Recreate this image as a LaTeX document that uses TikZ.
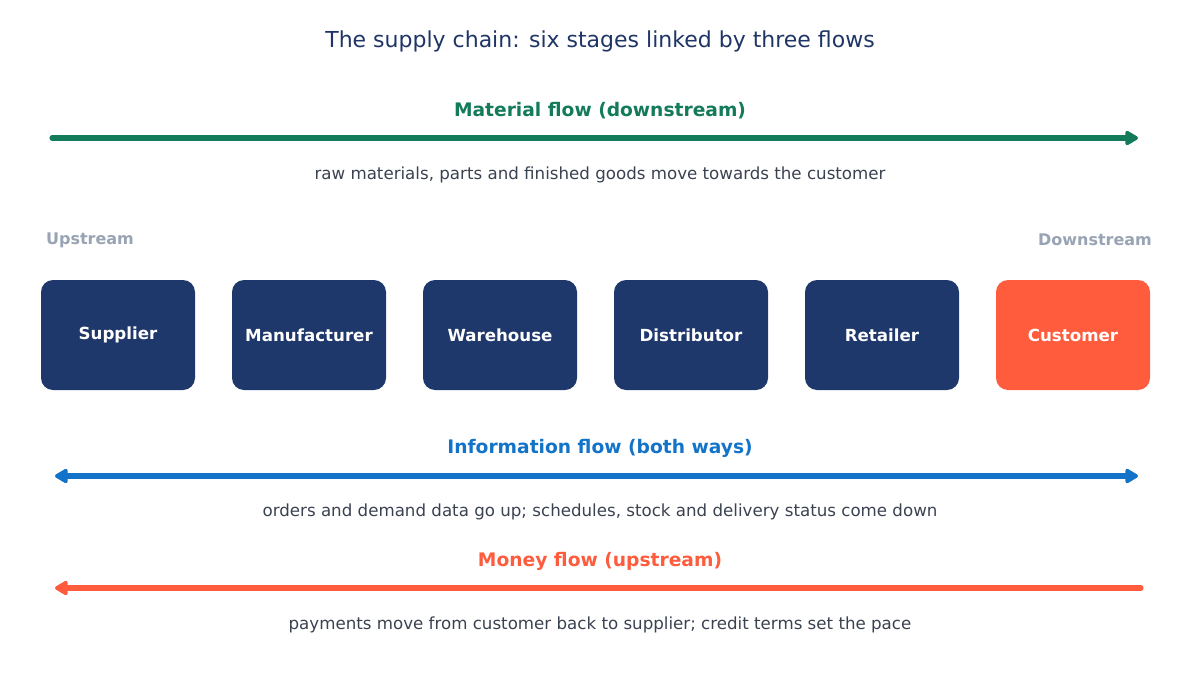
\documentclass[tikz,border=0pt]{standalone}
\usepackage{fontspec}
\setmainfont{DejaVu Sans}
\usetikzlibrary{arrows.meta}
\definecolor{navy}{HTML}{1F386B}
\definecolor{titlec}{HTML}{1F3566}
\definecolor{greenf}{HTML}{137A5A}
\definecolor{bluef}{HTML}{1273C8}
\definecolor{orangef}{HTML}{FF5C3D}
\definecolor{capc}{HTML}{3A4150}
\definecolor{grayc}{HTML}{98A3B3}
\begin{document}
\begin{tikzpicture}[x=0.75pt,y=-0.75pt,
  >={Triangle[length=11pt,width=12pt,round]},
  stage/.style={rounded corners=9pt,minimum width=115.5pt,minimum height=82.5pt,inner sep=0pt,text=white,font=\bfseries\fontsize{12.5}{14}\selectfont},
  flowlbl/.style={font=\bfseries\fontsize{14}{16}\selectfont},
  captxt/.style={text=capc,font=\fontsize{12.5}{14}\selectfont},
  flow/.style={line width=3.8pt,line cap=round}]
\useasboundingbox (0,0) rectangle (1200,675);
\node[text=titlec,font=\fontsize{16.5}{19}\selectfont] (title) at (600,41) {The supply chain: six stages linked by three flows};

\node[flowlbl,text=greenf] (ml) at (600,111) {Material flow (downstream)};
\coordinate (m1) at (52,138); \coordinate (m2) at (1138,138);
\draw[flow,greenf,->] (m1) -- (m2);
\node[captxt] (mc) at (600,175) {raw materials, parts and finished goods move towards the customer};

\node[text=grayc,font=\bfseries\fontsize{12}{14}\selectfont] (up) at (90,240) {Upstream};
\node[text=grayc,font=\bfseries\fontsize{12}{14}\selectfont] (down) at (1095,240) {Downstream};

\foreach \n/\t [count=\i from 0] in {s/Supplier,m/Manufacturer,w/Warehouse,d/Distributor,r/Retailer}
  \node[stage,fill=navy] (\n) at (118+191*\i,335) {\t};
\node[stage,fill=orangef] (c) at (1073,335) {Customer};

\node[flowlbl,text=bluef] (il) at (600,448) {Information flow (both ways)};
\coordinate (i1) at (55,476); \coordinate (i2) at (1138,476);
\draw[flow,bluef,<->] (i1) -- (i2);
\node[captxt] (ic) at (600,512) {orders and demand data go up; schedules, stock and delivery status come down};

\node[flowlbl,text=orangef] (ol) at (600,561) {Money flow (upstream)};
\coordinate (o1) at (55,588); \coordinate (o2) at (1141,588);
\draw[flow,orangef,->] (o2) -- (o1);
\node[captxt] (oc) at (600,625) {payments move from customer back to supplier; credit terms set the pace};
\end{tikzpicture}
\end{document}
